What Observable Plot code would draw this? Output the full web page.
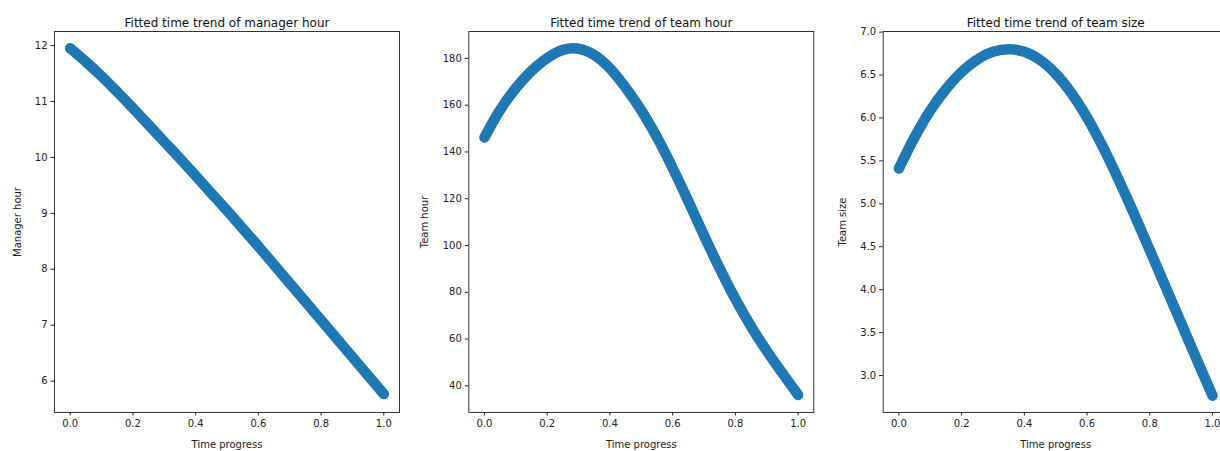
<!DOCTYPE html>
<html>
<head>
<meta charset="utf-8">
<script src="https://cdn.jsdelivr.net/npm/d3@7"></script>
<script src="https://cdn.jsdelivr.net/npm/@observablehq/plot@0.6"></script>
<style>
  html, body { margin: 0; padding: 0; background: #fff; overflow: hidden; }
  #chart { position: relative; width: 1220px; height: 451px; overflow: hidden; background: #fff; }
  .panel { position: absolute; top: 0; }
  .panel svg { max-width: none !important; }
</style>
</head>
<body>
<div id="chart"></div>
<script>
// ---- data ----
const timeProgress = [0, 0.05, 0.1, 0.15, 0.2, 0.25, 0.3, 0.35, 0.4, 0.45, 0.5,
                      0.55, 0.6, 0.65, 0.7, 0.75, 0.8, 0.85, 0.9, 0.95, 1.0];
const managerHour = [11.95, 11.71, 11.45, 11.17, 10.88, 10.58, 10.28, 9.98, 9.67, 9.36, 9.05,
                     8.73, 8.41, 8.08, 7.75, 7.42, 7.09, 6.76, 6.43, 6.10, 5.77];
const teamHour = [146.2, 158.0, 167.3, 174.65, 180.15, 183.65, 184.15, 181.45, 175.75, 167.5, 157.75,
                  146.25, 133.15, 118.9, 104.3, 90.2, 77.1, 65.35, 54.95, 45.35, 36.1];
const teamSize = [5.41, 5.775, 6.085, 6.335, 6.535, 6.68, 6.77, 6.80, 6.77, 6.675, 6.515,
                  6.29, 6.005, 5.665, 5.285, 4.88, 4.46, 4.035, 3.61, 3.185, 2.765];

const xTicks = [0, 0.2, 0.4, 0.6, 0.8, 1.0];
const managerTicks = [6, 7, 8, 9, 10, 11, 12];
const teamHourTicks = [40, 60, 80, 100, 120, 140, 160, 180];
const teamSizeTicks = [3.0, 3.5, 4.0, 4.5, 5.0, 5.5, 6.0, 6.5, 7.0];

const titles = ["Fitted time trend of manager hour", "Fitted time trend of team hour", "Fitted time trend of team size"];
const yLabels = ["Manager hour", "Team hour", "Team size"];

const blue = "#1f77b4";

function panel({values, yDomain, yTicks, yFormat, title, ylabel, left, width, mLeft, mRight, yLabelOffset}) {
  const data = timeProgress.map((t, i) => ({t, v: values[i]}));
  const p = Plot.plot({
    width, height: 451,
    marginLeft: mLeft, marginRight: mRight, marginTop: 31, marginBottom: 39,
    x: {domain: [-0.05, 1.05]},
    y: {domain: yDomain},
    style: {fontFamily: "DejaVu Sans", fontSize: "10px", color: "#222", background: "white", overflow: "visible"},
    marks: [
      Plot.line(data, {x: "t", y: "v", stroke: blue, strokeWidth: 10.5, strokeLinecap: "round", strokeLinejoin: "round", curve: "catmull-rom"}),
      Plot.frame({stroke: "#333", strokeWidth: 1}),
      Plot.axisX({ticks: xTicks, tickFormat: d3.format(".1f"), tickSize: 3.5, tickPadding: 3.5,
                  label: "Time progress", labelAnchor: "center", labelArrow: "none", labelOffset: 35, fontSize: 10}),
      Plot.axisY({ticks: yTicks, tickFormat: yFormat, tickSize: 3.5, tickPadding: 3.5,
                  label: ylabel, labelAnchor: "center", labelArrow: "none", labelOffset: yLabelOffset, fontSize: 10}),
      Plot.text([title], {frameAnchor: "top", dy: -13.5, fontSize: 12, fill: "#111", text: d => d})
    ]
  });
  const div = document.createElement("div");
  div.className = "panel";
  div.style.left = left + "px";
  div.style.width = width + "px";
  div.appendChild(p);
  document.getElementById("chart").appendChild(div);
}

panel({values: managerHour, yDomain: [5.44, 12.25], yTicks: managerTicks, yFormat: d3.format("d"),
       title: titles[0], ylabel: yLabels[0], left: 0, width: 410, mLeft: 54, mRight: 11, yLabelOffset: 41});
panel({values: teamHour, yDomain: [28.6, 191.5], yTicks: teamHourTicks, yFormat: d3.format("d"),
       title: titles[1], ylabel: yLabels[1], left: 410, width: 410, mLeft: 58.3, mRight: 6.7, yLabelOffset: 48});
panel({values: teamSize, yDomain: [2.569, 7.007], yTicks: teamSizeTicks, yFormat: d3.format(".1f"),
       title: titles[2], ylabel: yLabels[2], left: 815, width: 420, mLeft: 67.7, mRight: 7.3, yLabelOffset: 44});
</script>
</body>
</html>
